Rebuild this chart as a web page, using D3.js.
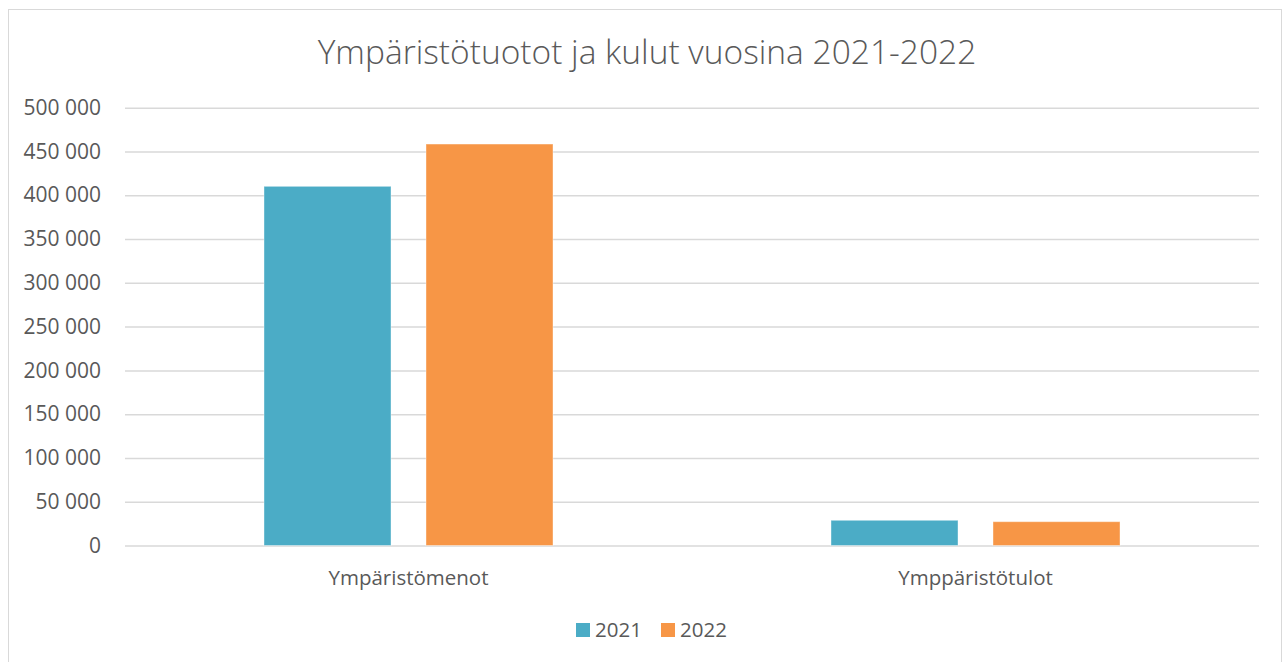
<!DOCTYPE html>
<html>
<head>
<meta charset="utf-8">
<script src="https://cdn.jsdelivr.net/npm/d3@7"></script>
<style>
  body { margin: 0; background: #fff; }
  text { font-family: "Open Sans", sans-serif; fill: #595959; }
</style>
</head>
<body>
<script>
const width = 1288;
const height = 662;

const categories = ['Ympäristömenot', 'Ymppäristötulot'];
const seriesNames = ['2021', '2022'];
const values2021 = [410200, 28800];
const values2022 = [458500, 27200];
const colors = ['#4BACC6', '#F79646'];
const yTicks = [0, 50000, 100000, 150000, 200000, 250000, 300000, 350000, 400000, 450000, 500000];

const margin = {top: 108, right: 29, bottom: 116, left: 125};

const svg = d3.select('body')
              .append('svg')
              .attr('width', width)
              .attr('height', height);

// chart frame
svg.append('rect')
   .attr('x', 8.5)
   .attr('y', 9.5)
   .attr('width', 1273)
   .attr('height', 670)
   .attr('fill', 'none')
   .attr('stroke', '#D9D9D9');

svg.append('text')
   .attr('x', 647)
   .attr('y', 64)
   .attr('text-anchor', 'middle')
   .style('font-size', '33.5px')
   .style('font-weight', 300)
   .text('Ympäristötuotot ja kulut vuosina 2021-2022');

const y = d3.scaleLinear()
            .domain([0, 500000])
            .range([545.5, 107.7]);

const x0 = d3.scaleBand()
             .domain(categories)
             .range([margin.left, width - margin.right])
             .padding(0);

const x1 = d3.scaleBand()
             .domain(seriesNames)
             .range([0, x0.bandwidth()])
             .paddingInner(0.216)
             .paddingOuter(0.858);

const fmt = d => d3.format(',')(d).replace(/,/g, ' ');

const yAxis = d3.axisLeft(y)
                .tickValues(yTicks)
                .tickSize(-(x0.range()[1] - x0.range()[0]))
                .tickPadding(24)
                .tickFormat(fmt);

const gy = svg.append('g')
              .attr('transform', `translate(${margin.left},0)`)
              .call(yAxis);
gy.select('.domain').remove();
gy.selectAll('.tick line').attr('stroke', '#D9D9D9').attr('stroke-width', 1.5);
gy.selectAll('.tick text')
  .style('font-size', '21px')
  .attr('fill', '#595959');

const data = categories.map((c, i) => ({cat: c, vals: [values2021[i], values2022[i]]}));

const groups = svg.selectAll('g.grp')
                  .data(data)
                  .enter()
                  .append('g')
                  .attr('class', 'grp')
                  .attr('transform', d => `translate(${x0(d.cat)},0)`);

groups.selectAll('rect')
      .data(d => d.vals.map((v, j) => ({name: seriesNames[j], v: v, j: j})))
      .enter()
      .append('rect')
      .attr('x', d => x1(d.name))
      .attr('y', d => y(d.v))
      .attr('width', x1.bandwidth())
      .attr('height', d => y(0) - y(d.v))
      .attr('fill', d => colors[d.j])
      .attr('stroke', '#fff')
      .attr('stroke-opacity', 0.4)
      .attr('stroke-width', 1);

svg.append('g')
   .selectAll('text')
   .data(categories)
   .enter()
   .append('text')
   .attr('x', d => x0(d) + x0.bandwidth() / 2)
   .attr('y', 585)
   .attr('text-anchor', 'middle')
   .style('font-size', '20.5px')
   .text(d => d);

// legend
const legendX = [576, 661];
const legend = svg.append('g');
seriesNames.forEach((s, i) => {
  legend.append('rect')
        .attr('x', legendX[i])
        .attr('y', 623)
        .attr('width', 14)
        .attr('height', 14)
        .attr('fill', colors[i]);
  legend.append('text')
        .attr('x', legendX[i] + 19)
        .attr('y', 637)
        .style('font-size', '20.5px')
        .text(s);
});
</script>
</body>
</html>
